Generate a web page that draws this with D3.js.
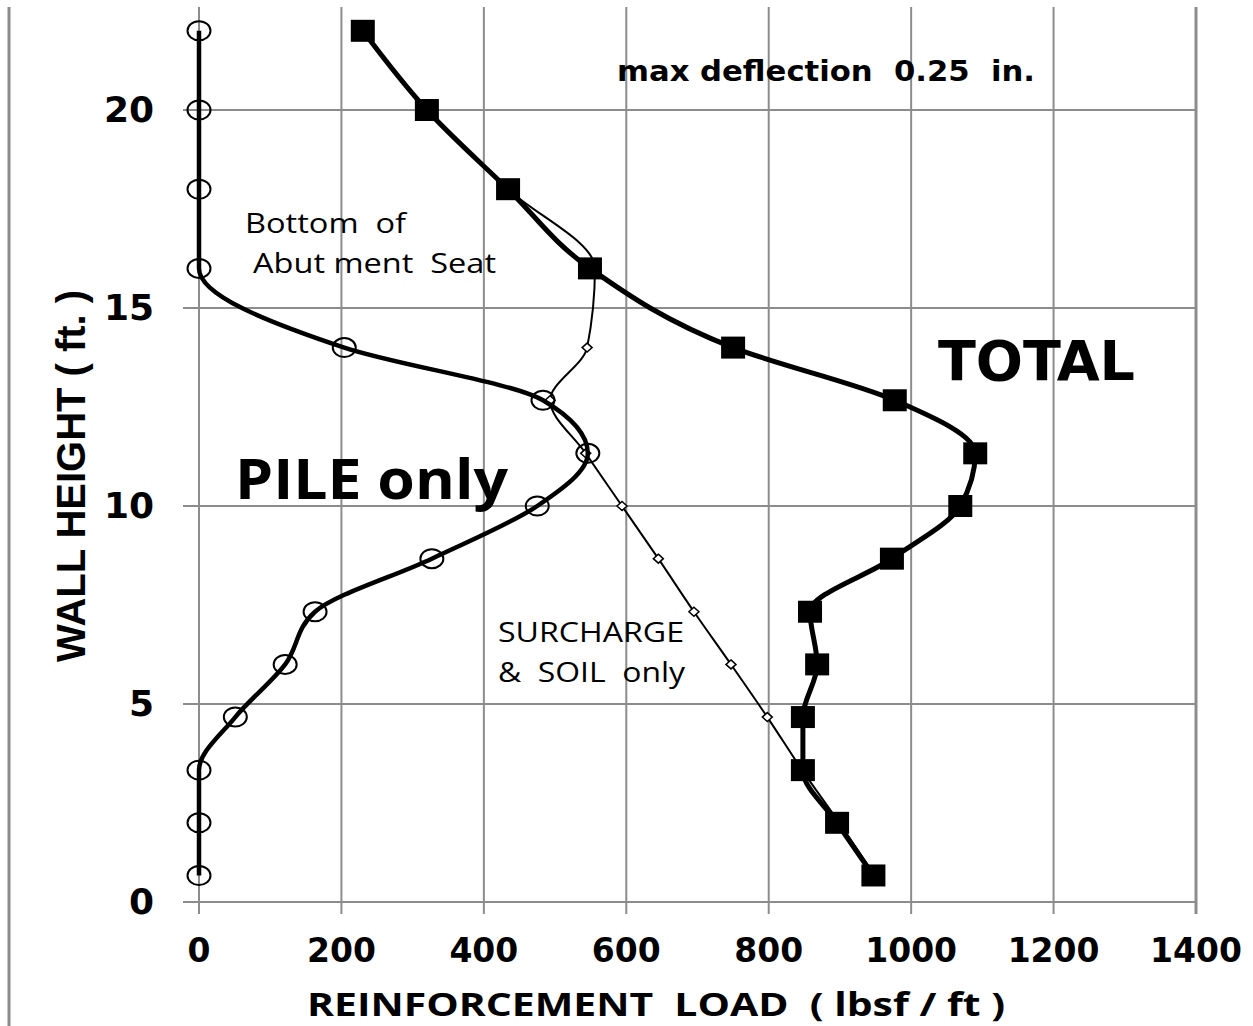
<!DOCTYPE html>
<html>
<head>
<meta charset="utf-8">
<script src="https://cdn.jsdelivr.net/npm/d3@7"></script>
<style>
  body { margin: 0; background: #fff; }
  svg { display: block; }
</style>
</head>
<body>
<div id="chart"></div>
<script>
// wall height (ft) of each reinforcement layer
const heights = [22, 20, 18, 16, 14, 12.67, 11.33, 10, 8.67, 7.33, 6, 4.67, 3.33, 2, 0.67];
// reinforcement load (lbsf / ft)
const pileLoad = [0, 0, 0, 0, 204, 483, 546, 475, 327, 163, 121, 51, 0, 0, 0];
const surchargeLoad = [230, 320, 434, 556, 545, 493, 543, 594, 645, 695, 747, 798, 847, 899, 949];
const totalLoad = [230, 320, 434, 549, 750, 977, 1090, 1069, 973, 858, 868, 848, 848, 896, 947];

const xTicks = [0, 200, 400, 600, 800, 1000, 1200, 1400];
const yTicks = [0, 5, 10, 15, 20];

const width = 1253, height = 1026;
const gridColor = "#8c8c8c";

const svg = d3.select("#chart").append("svg")
    .attr("width", width)
    .attr("height", height);

const x = d3.scaleLinear().domain([0, 1400]).range([199, 1196]);
const y = d3.scaleLinear().domain([0, 20]).range([902, 110]);
const plotTop = 7;

// outer left rule
svg.append("line")
    .attr("x1", 9).attr("x2", 9)
    .attr("y1", plotTop).attr("y2", height)
    .attr("stroke", gridColor).attr("stroke-width", 3);

// vertical grid (with tick stubs under the axis)
svg.append("g").selectAll("line")
    .data(xTicks)
    .join("line")
    .attr("x1", d => x(d)).attr("x2", d => x(d))
    .attr("y1", plotTop).attr("y2", y(0) + 12)
    .attr("stroke", gridColor)
    .attr("stroke-width", d => d === 1400 ? 3 : 2);

// horizontal grid (with tick stubs left of the axis)
svg.append("g").selectAll("line")
    .data(yTicks)
    .join("line")
    .attr("x1", x(0) - 16).attr("x2", x(1400))
    .attr("y1", d => y(d)).attr("y2", d => y(d))
    .attr("stroke", gridColor)
    .attr("stroke-width", 2);

// tick labels
svg.append("g").selectAll("text")
    .data(xTicks)
    .join("text")
    .attr("x", d => x(d))
    .attr("y", 962)
    .attr("text-anchor", "middle")
    .attr("font-family", "DejaVu Sans")
    .attr("font-weight", "bold")
    .attr("font-size", "33px")
    .text(d => d);

svg.append("g").selectAll("text")
    .data(yTicks)
    .join("text")
    .attr("x", 154)
    .attr("y", d => y(d) + 12)
    .attr("text-anchor", "end")
    .attr("font-family", "DejaVu Sans")
    .attr("font-weight", "bold")
    .attr("font-size", "36px")
    .text(d => d);

// axis titles
svg.append("text")
    .attr("x", 307).attr("y", 1016)
    .attr("font-family", "Open Sans")
    .attr("font-weight", "bold")
    .attr("font-size", "32px")
    .attr("textLength", 698)
    .attr("lengthAdjust", "spacingAndGlyphs")
    .attr("xml:space", "preserve")
    .text("REINFORCEMENT  LOAD  ( lbsf / ft )");

svg.append("text")
    .attr("transform", "translate(85,662) rotate(-90)")
    .attr("font-family", "Liberation Sans")
    .attr("font-weight", "bold")
    .attr("font-size", "40px")
    .attr("textLength", 372)
    .attr("lengthAdjust", "spacingAndGlyphs")
    .attr("xml:space", "preserve")
    .text("WALL HEIGHT ( ft. )");

const pts = vals => vals.map((v, i) => [v, heights[i]]);
const smooth = d3.line()
    .x(d => x(d[0]))
    .y(d => y(d[1]))
    .curve(d3.curveMonotoneY);

// SURCHARGE & SOIL only
svg.append("path")
    .attr("d", smooth(pts(surchargeLoad)))
    .attr("fill", "none")
    .attr("stroke", "#000")
    .attr("stroke-width", 2);

svg.append("g").selectAll("path")
    .data(pts(surchargeLoad))
    .join("path")
    .attr("transform", d => `translate(${x(d[0])},${y(d[1])})`)
    .attr("d", "M0,-4.5L5,0L0,4.5L-5,0Z")
    .attr("fill", "#fff")
    .attr("stroke", "#000")
    .attr("stroke-width", 1.5);

// PILE only
svg.append("path")
    .attr("d", smooth(pts(pileLoad)))
    .attr("fill", "none")
    .attr("stroke", "#000")
    .attr("stroke-width", 4.5);

svg.append("g").selectAll("ellipse")
    .data(pts(pileLoad))
    .join("ellipse")
    .attr("cx", d => x(d[0]))
    .attr("cy", d => y(d[1]))
    .attr("rx", 11.5)
    .attr("ry", 9.5)
    .attr("fill", "none")
    .attr("stroke", "#000")
    .attr("stroke-width", 2);

// TOTAL
svg.append("path")
    .attr("d", smooth(pts(totalLoad)))
    .attr("fill", "none")
    .attr("stroke", "#000")
    .attr("stroke-width", 5);

svg.append("g").selectAll("rect")
    .data(pts(totalLoad))
    .join("rect")
    .attr("x", d => x(d[0]) - 12)
    .attr("y", d => y(d[1]) - 11)
    .attr("width", 24)
    .attr("height", 22)
    .attr("fill", "#000");

// annotations
const note = (tx, ty, str, size, len, family, weight) => svg.append("text")
    .attr("x", tx).attr("y", ty)
    .attr("font-family", family)
    .attr("font-weight", weight)
    .attr("font-size", size + "px")
    .attr("textLength", len)
    .attr("lengthAdjust", "spacingAndGlyphs")
    .attr("xml:space", "preserve")
    .text(str);

note(617, 81, "max deflection  0.25  in.", 28, 418, "DejaVu Sans", "bold");
note(938, 380, "TOTAL", 55, 197, "DejaVu Sans", "bold");
note(235, 499, "PILE only", 56, 273, "Open Sans", "bold");
note(245, 233, "Bottom  of", 28, 161, "Open Sans", "normal");
note(253, 273, "Abut ment  Seat", 28, 243, "Open Sans", "normal");
note(498, 642, "SURCHARGE", 28, 186, "Open Sans", "normal");
note(498, 682, "&  SOIL  only", 28, 187, "Open Sans", "normal");
</script>
</body>
</html>
